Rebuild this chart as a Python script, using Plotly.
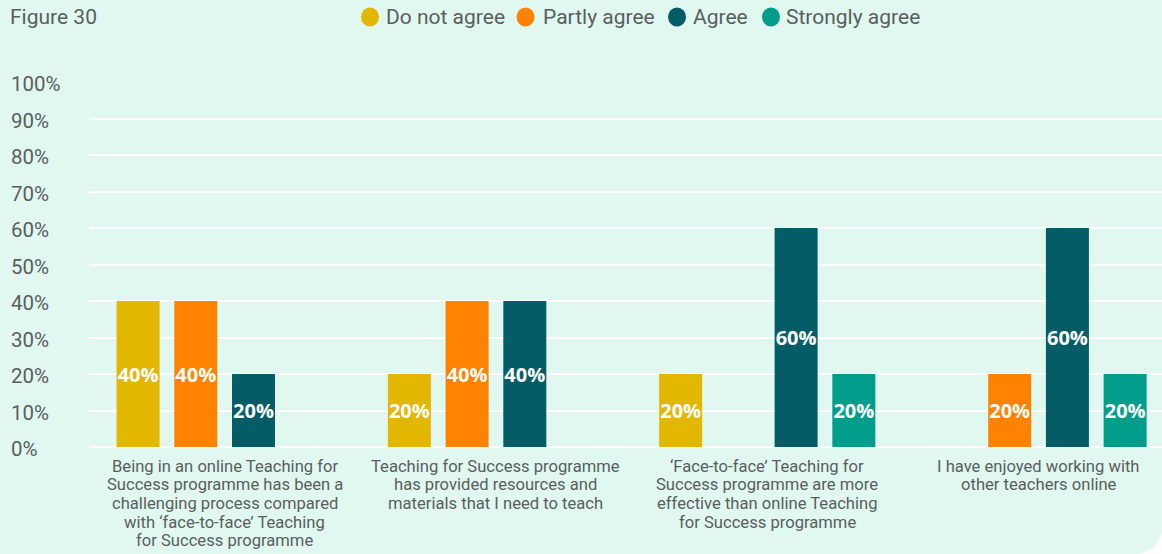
import plotly.graph_objects as go

# Survey statements (category axis) and the share of answers per response level
statements = [
    "Being in an online Teaching for Success programme has been a challenging process compared with ‘face-to-face’ Teaching for Success programme",
    "Teaching for Success programme has provided resources and materials that I need to teach",
    "‘Face-to-face’ Teaching for Success programme are more effective than online Teaching for Success programme",
    "I have enjoyed working with other teachers online",
]
statement_lines = [
    ["Being in an online Teaching for", "Success programme has been a", "challenging process compared",
     "with ‘face-to-face’ Teaching", "for Success programme"],
    ["Teaching for Success programme", "has provided resources and", "materials that I need to teach"],
    ["‘Face-to-face’ Teaching for", "Success programme are more", "effective than online Teaching",
     "for Success programme"],
    ["I have enjoyed working with", "other teachers online"],
]
responses = ["Do not agree", "Partly agree", "Agree", "Strongly agree"]
do_not_agree = [40, 20, 20, None]
partly_agree = [40, 40, None, 20]
agree = [20, 40, 60, 60]
strongly_agree = [None, None, 20, 20]
series_values = [do_not_agree, partly_agree, agree, strongly_agree]
colors = ["#E3B700", "#FF8300", "#045D66", "#009D8A"]

y_ticks = [0, 10, 20, 30, 40, 50, 60, 70, 80, 90, 100]
y_tick_labels = [f"{v}%" for v in y_ticks]

W, H = 1162, 554
ML, MR, MT, MB = 89, 0, 82, 107
PW = W - ML - MR
PH = H - MT - MB
BG = "#E0F8F0"
TEXT = "#5B5E5E"
LABEL_FONT = "Roboto, 'Open Sans', sans-serif"


def px_x(p):
    return (p - ML) / PW


def px_y(p):
    return (H - MB - p) / PH


fig = go.Figure()
for name, vals, col in zip(responses, series_values, colors):
    fig.add_trace(go.Bar(
        x=statements, y=vals, name=name, marker_color=col, marker_line_width=0,
        text=[f"{v}%" if v is not None else "" for v in vals],
        textposition="inside", insidetextanchor="middle", constraintext="none",
        textangle=0,
        textfont=dict(family="'Open Sans', sans-serif", size=20, color="white", weight="bold"),
        showlegend=False, hoverinfo="skip",
    ))

annotations = [dict(
    text="Figure 30", xref="paper", yref="paper",
    x=px_x(8), y=px_y(17), xanchor="left", yanchor="middle",
    showarrow=False, font=dict(family=LABEL_FONT, size=21, color=TEXT),
)]

# y tick labels, left aligned at the panel edge
for v, lab in zip(y_ticks, y_tick_labels):
    annotations.append(dict(
        text=lab, xref="paper", yref="y", x=px_x(9), y=v, yshift=-2,
        xanchor="left", yanchor="middle", showarrow=False,
        font=dict(family=LABEL_FONT, size=20.5, color=TEXT),
    ))

# wrapped category labels under each group
LINE_H = 18.7
for cat, lines in zip(statements, statement_lines):
    for i, line in enumerate(lines):
        annotations.append(dict(
            text=line, xref="x", yref="paper", x=cat, y=0,
            yshift=-(19 + i * LINE_H), xanchor="center", yanchor="middle",
            showarrow=False, font=dict(family=LABEL_FONT, size=16.6, color=TEXT),
        ))

# legend: coloured dots with response names
legend_dot_x = [370, 525.5, 677, 771]
legend_text_x = [384, 541, 691, 784]
LEG_Y = 17
shapes = []
for name, col, cx, tx in zip(responses, colors, legend_dot_x, legend_text_x):
    shapes.append(dict(
        type="circle", xref="paper", yref="paper",
        x0=px_x(cx - 9), x1=px_x(cx + 9), y0=px_y(LEG_Y + 9.5), y1=px_y(LEG_Y - 9.5),
        fillcolor=col, line_width=0,
    ))
    annotations.append(dict(
        text=name, xref="paper", yref="paper", x=px_x(tx), y=px_y(LEG_Y),
        xanchor="left", yanchor="middle", showarrow=False,
        font=dict(family=LABEL_FONT, size=21, color=TEXT),
    ))

# rounded bottom-right corner of the panel
corner = (f"M {px_x(1162)} {px_y(528)} Q {px_x(1160)} {px_y(551)} {px_x(1137)} {px_y(554)} "
          f"L {px_x(1163)} {px_y(555)} Z")
shapes.append(dict(type="path", xref="paper", yref="paper", path=corner,
                   fillcolor="white", line_width=0, layer="above"))

fig.update_layout(
    width=W, height=H, margin=dict(l=ML, r=MR, t=MT, b=MB),
    paper_bgcolor=BG, plot_bgcolor=BG,
    barmode="group", bargap=0.149, bargroupgap=0.255,
    font=dict(family=LABEL_FONT, color=TEXT),
    showlegend=False,
    xaxis=dict(
        type="category", range=[-0.5, -0.5 + PW / 271.3],
        showgrid=False, zeroline=False, showline=False, showticklabels=False,
    ),
    yaxis=dict(
        range=[0, 100], tickvals=y_ticks, showticklabels=False,
        showgrid=True, gridcolor="white", gridwidth=2,
        zeroline=True, zerolinecolor="white", zerolinewidth=2, showline=False,
    ),
    annotations=annotations,
    shapes=shapes,
)

fig.write_html("out.html")
